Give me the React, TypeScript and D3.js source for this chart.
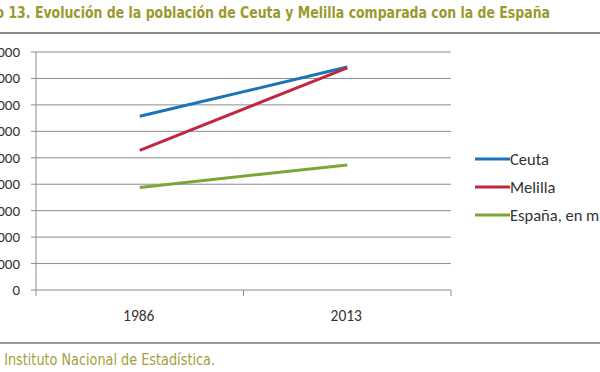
import React from "react";
import * as d3 from "d3";

const years = ["1986", "2013"];
const ceuta = [65700, 84300];
const melilla = [52800, 84000];
const espana = [38800, 47300];
const yTicks = [0, 10000, 20000, 30000, 40000, 50000, 60000, 70000, 80000, 90000];
const seriesNames = ["Ceuta", "Melilla", "España, en miles"];
const colors = ["#1b74ba", "#c0283d", "#7aa834"];
const title = "Gráfico 13. Evolución de la población de Ceuta y Melilla comparada con la de España";
const source = "Fuente: Instituto Nacional de Estadística.";

export default function App() {
  const W = 600, H = 372;
  const left = 36, right = 451, top = 52, bottom = 290;
  const x = d3.scaleBand().domain(years).range([left, right]);
  const y = d3.scaleLinear().domain([0, 90000]).range([bottom, top]);
  const series = [ceuta, melilla, espana];
  const line = d3.line<number>().x((_, i) => (x(years[i]) as number) + x.bandwidth() / 2).y((d) => y(d));
  const fmt = d3.format("d");
  const font = "Carlito, 'Open Sans', 'Liberation Sans', sans-serif";
  const condensed = "'DejaVu Sans', sans-serif";
  return (
    <svg width={W} height={H} style={{ position: "absolute", left: 0, top: 0, background: "#fff" }}>
      <text x={-46} y={18} textLength={596} lengthAdjust="spacingAndGlyphs" fill="#9a992e" fontWeight="bold" fontSize={16.5}
        fontFamily={condensed} style={{ fontStretch: "condensed" }}>{title}</text>
      <line x1={0} x2={W} y1={33} y2={33} stroke="#8a8a8a" strokeWidth={2} />
      {yTicks.map((t) => (
        <g key={t}>
          <line x1={left} x2={right} y1={y(t)} y2={y(t)} stroke="#8c8c8c" strokeWidth={1} />
          <line x1={left - 5} x2={left} y1={y(t)} y2={y(t)} stroke="#8c8c8c" strokeWidth={1} />
          <text x={20} y={y(t) + 5} textAnchor="end" fontSize={15} fill="#333" fontFamily={font}>{fmt(t)}</text>
        </g>
      ))}
      <line x1={left} x2={left} y1={top} y2={bottom} stroke="#8c8c8c" strokeWidth={1} />
      {[left, ...years.map((d) => (x(d) as number) + x.bandwidth())].map((px, i) => (
        <line key={i} x1={px} x2={px} y1={bottom} y2={bottom + 6} stroke="#8c8c8c" strokeWidth={1} />
      ))}
      {years.map((d) => (
        <text key={d} x={(x(d) as number) + x.bandwidth() / 2 - 1} y={321} textAnchor="middle" fontSize={15.5} fill="#333" fontFamily={font}>{d}</text>
      ))}
      {series.map((s, i) => (
        <path key={i} d={line(s) || ""} fill="none" stroke={colors[i]} strokeWidth={3} />
      ))}
      {seriesNames.map((n, i) => (
        <g key={n}>
          <line x1={475} x2={510} y1={159 + i * 28} y2={159 + i * 28} stroke={colors[i]} strokeWidth={3} />
          <text x={510} y={164.5 + i * 28} fontSize={16.5} fill="#333" fontFamily={font}>{n}</text>
        </g>
      ))}
      <line x1={0} x2={W} y1={343} y2={343} stroke="#9a9a9a" strokeWidth={2} />
      <text x={-48} y={365} textLength={263} lengthAdjust="spacingAndGlyphs" fontSize={15} fill="#a4a03c"
        fontFamily={condensed} style={{ fontStretch: "condensed" }}>{source}</text>
    </svg>
  );
}
